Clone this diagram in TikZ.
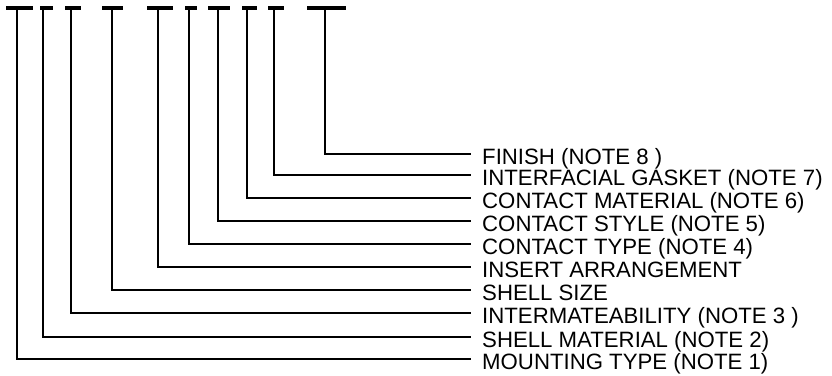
\documentclass[tikz,border=0pt]{standalone}
\usepackage{fontspec}
\setmainfont{Liberation Sans}
\begin{document}
\begin{tikzpicture}[x=1pt,y=-1pt,
  lead/.style={line width=2.6pt,line join=miter},
  topbar/.style={line width=4pt},
  lbl/.style={anchor=base west,inner sep=0pt,font=\fontsize{22.2}{24}\selectfont}]
\useasboundingbox (0,0) rectangle (832,375);
% top bars
\foreach \a/\b in {6/33,40/53,65/81,102/123,147/173,185/197,208/230,242/257,268/284,307/346}
  \draw[topbar] (\a,8) -- (\b,8);
% top coordinates
\coordinate (t1) at (17,8);
\coordinate (t2) at (43,8);
\coordinate (t3) at (71,8);
\coordinate (t4) at (112,8);
\coordinate (t5) at (158,8);
\coordinate (t6) at (189,8);
\coordinate (t7) at (218,8);
\coordinate (t8) at (247,8);
\coordinate (t9) at (274,8);
\coordinate (t10) at (325,8);
% line ends
\coordinate (e10) at (471,154);
\coordinate (e9) at (471,175);
\coordinate (e8) at (471,198);
\coordinate (e7) at (471,221);
\coordinate (e6) at (471,244);
\coordinate (e5) at (471,267);
\coordinate (e4) at (471,290);
\coordinate (e3) at (471,313);
\coordinate (e2) at (471,337);
\coordinate (e1) at (471,359);
% labels
\node[lbl] (l10) at ([shift={(11,10)}]e10) {FINISH (NOTE 8 )};
\node[lbl] (l9) at ([shift={(11,10)}]e9) {INTERFACIAL GASKET (NOTE 7)};
\node[lbl] (l8) at ([shift={(11,10)}]e8) {CONTACT MATERIAL (NOTE 6)};
\node[lbl] (l7) at ([shift={(11,10)}]e7) {CONTACT STYLE (NOTE 5)};
\node[lbl] (l6) at ([shift={(11,10)}]e6) {CONTACT TYPE (NOTE 4)};
\node[lbl] (l5) at ([shift={(11,10)}]e5) {INSERT ARRANGEMENT};
\node[lbl] (l4) at ([shift={(11,10)}]e4) {SHELL SIZE};
\node[lbl] (l3) at ([shift={(11,10)}]e3) {INTERMATEABILITY (NOTE 3 )};
\node[lbl] (l2) at ([shift={(11,10)}]e2) {SHELL MATERIAL (NOTE 2)};
\node[lbl] (l1) at ([shift={(11,10)}]e1) {MOUNTING TYPE (NOTE 1)};
% leaders
\foreach \i in {1,...,10}
  \draw[lead] (t\i) |- (e\i);
\end{tikzpicture}
\end{document}
